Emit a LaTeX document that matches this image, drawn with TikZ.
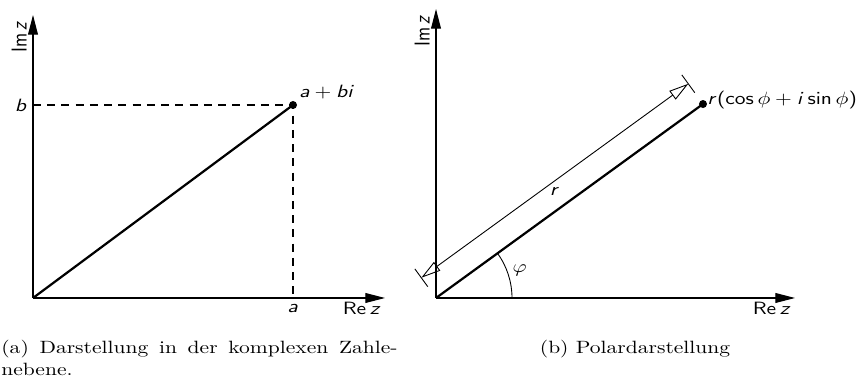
\documentclass[tikz,border=0pt]{standalone}
\usepackage{amsmath}
\usepackage{graphicx}
\usetikzlibrary{arrows.meta,calc}
% sans serif letters in math
\DeclareSymbolFont{operators}{OT1}{cmss}{m}{n}
\DeclareSymbolFont{sfletters}{OT1}{cmss}{m}{sl}
\DeclareMathSymbol{a}{\mathalpha}{sfletters}{`a}
\DeclareMathSymbol{b}{\mathalpha}{sfletters}{`b}
\DeclareMathSymbol{i}{\mathalpha}{sfletters}{`i}
\DeclareMathSymbol{r}{\mathalpha}{sfletters}{`r}
\DeclareMathSymbol{z}{\mathalpha}{sfletters}{`z}
\newcommand{\widetext}[1]{\scalebox{1.21}[1]{#1}}

\begin{document}
\begin{tikzpicture}[x=0.5618pt, y=0.5618pt,
    axis/.style={line width=0.6pt, -{Triangle[length=11pt,width=5.5pt]}},
    vector/.style={line width=1.25pt},
    guide/.style={line width=0.6pt, dash pattern=on 4.5pt off 3.5pt},
    dimline/.style={line width=0.5pt, {Triangle[open,length=11pt,width=6pt]}-{Triangle[open,length=11pt,width=6pt]}},
    pointdot/.style={circle, fill, inner sep=0pt, minimum size=4.5pt}]
  \useasboundingbox (0,0) rectangle (861,385);

  % Left panel - Cartesian form
  \coordinate (O1) at (33,87);
  \coordinate (X1) at (385,87);
  \coordinate (Y1) at (33,370);
  \coordinate (A1) at (293,87);
  \coordinate (B1) at (33,280);
  \node[pointdot] (P) at (293,280) {};
  \draw[axis] (O1) -- (X1);
  \draw[axis] (O1) -- (Y1);
  \draw[guide] (B1) -- (P.center) -- (A1);
  \draw[vector] (O1) -- (P.center);
  \node[above right] (Plabel) at (P) {\widetext{$a+bi$}};
  \node[left] (Blabel) at (B1) {\widetext{$b$}};
  \node[below] (Alabel) at (A1) {\widetext{$a$}};
  \node[anchor=north east, inner sep=2pt] (Re1) at (X1) {\widetext{$\operatorname{Re} z$}};
  \node[rotate=90, anchor=south east] (Im1) at (Y1) {\scalebox{1}[1.21]{$\operatorname{Im} z$}};
  \node[anchor=base west, inner sep=0pt] (CapA) at (1,31) {\widetext{\parbox[t]{184pt}{(a) Darstellung in der komplexen Zahle-\linebreak nebene.}}};

  % Right panel - polar form
  \coordinate (O2) at (436,87);
  \coordinate (X2) at (795,87);
  \coordinate (Y2) at (436,376);
  \node[pointdot] (Q) at ($(O2)+(36:330)$) {};
  \coordinate (D1) at ($(O2)+(126:25)$);
  \coordinate (D2) at ($(Q)+(126:25)$);
  \draw[axis] (O2) -- (X2);
  \draw[axis] (O2) -- (Y2);
  \draw[vector] (O2) -- (Q.center);
  \draw[dimline] (D1) -- node[below] (Rlabel) {\widetext{$r$}} (D2);
  \draw[line width=0.5pt] ($(D1)+(126:11)$) -- ($(D1)+(-54:11)$);
  \draw[line width=0.5pt] ($(D2)+(126:11)$) -- ($(D2)+(-54:11)$);
  \draw[line width=0.5pt] ($(O2)+(76,0)$) arc[start angle=0, end angle=36, radius=42.7pt];
  \node (Phi) at ($(O2)+(18:88)$) {\widetext{$\varphi$}};
  \node[anchor=base west, inner sep=0pt] (Qlabel) at ($(Q)+(4,0)$) {\widetext{$r(\cos\phi+i\sin\phi)$}};
  \node[anchor=north east, inner sep=2pt] (Re2) at (X2) {\widetext{$\operatorname{Re} z$}};
  \node[rotate=90, anchor=south east] (Im2) at (Y2) {\scalebox{1}[1.21]{$\operatorname{Im} z$}};
  \node[anchor=base, inner sep=0pt] (CapB) at (635,31) {\widetext{(b) Polardarstellung}};
\end{tikzpicture}
\end{document}
